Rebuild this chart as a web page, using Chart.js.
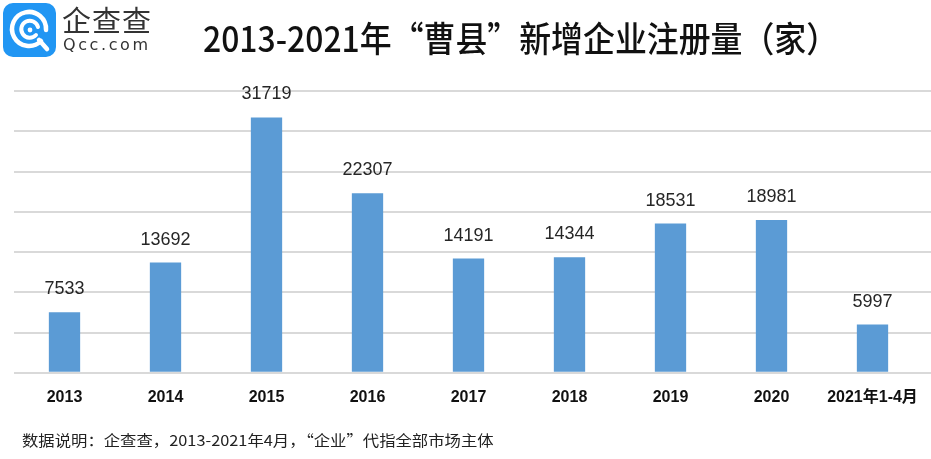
<!DOCTYPE html>
<html>
<head>
<meta charset="utf-8">
<script src="https://cdn.jsdelivr.net/npm/chart.js@4/dist/chart.umd.min.js"></script>
<style>
  html, body { margin: 0; padding: 0; background: #fff; }
  body { width: 931px; height: 459px; position: relative; overflow: hidden;
         font-family: "Noto Sans CJK SC", "Liberation Sans", sans-serif; }
  #wrap { position: absolute; left: 0; top: 0; width: 931px; height: 459px; }
  .logo { position: absolute; left: 3px; top: 3px; }
  .brand { position: absolute; left: 62px; top: 1px; font-size: 29px; color: #333;
           letter-spacing: 1px; line-height: 36px; }
  .brand-sub { position: absolute; left: 63px; top: 35px; font-family: "DejaVu Sans", sans-serif;
               font-size: 16px; color: #333; letter-spacing: 2.6px; line-height: 20px; }
  #title { position: absolute; left: 203px; top: 12px; font-size: 35px; font-weight: 500;
           color: #111; white-space: nowrap; line-height: 50px; transform-origin: 0 0; }
  #foot { position: absolute; left: 22px; top: 429px; font-size: 15px; color: #222;
          white-space: nowrap; line-height: 22px; transform-origin: 0 0; }
</style>
</head>
<body>
<div id="wrap"><canvas id="c"></canvas></div>

<svg class="logo" width="53" height="54" viewBox="0 0 53 54">
  <rect x="0" y="0" width="53" height="54" rx="10" fill="#2196f3"/>
  <path d="M38 38 A17 17 0 1 1 43 27" fill="none" stroke="#fff" stroke-width="4.5" stroke-linecap="round"/>
  <path d="M33 32 A8.5 8.5 0 1 1 35 24" fill="none" stroke="#fff" stroke-width="4" stroke-linecap="round"/>
  <circle cx="27" cy="27" r="2.4" fill="#fff"/>
  <path d="M36 37 L44 46" stroke="#fff" stroke-width="4.5" stroke-linecap="round"/>
</svg>
<div class="brand">企查查</div>
<div class="brand-sub">Qcc.com</div>

<div id="title">2013-2021年“曹县”新增企业注册量（家）</div>
<div id="foot">数据说明：企查查，2013-2021年4月，“企业”代指全部市场主体</div>

<script>
const years = ["2013", "2014", "2015", "2016", "2017", "2018", "2019", "2020", "2021年1-4月"];
const registrations = [7533, 13692, 31719, 22307, 14191, 14344, 18531, 18981, 5997];
const yMax = 35000;
const yStep = 5000;

// squeeze the html title so it spans the same width as in the picture
(function fit() {
  const t = document.getElementById("title");
  t.style.transform = `scaleX(${635 / t.offsetWidth})`;
  const f = document.getElementById("foot");
  f.style.transform = `scaleX(${472 / f.offsetWidth})`;
})();

// value over each bar
const barLabels = {
  id: "barLabels",
  afterDatasetsDraw(chart) {
    const ctx = chart.ctx;
    const meta = chart.getDatasetMeta(0);
    ctx.save();
    ctx.font = '18px "Liberation Sans", sans-serif';
    ctx.fillStyle = "#262626";
    ctx.textAlign = "center";
    ctx.textBaseline = "alphabetic";
    meta.data.forEach((bar, i) => {
      ctx.fillText(String(registrations[i]), bar.x, bar.y - 18);
    });
    ctx.restore();
  },
};

// gridlines in the original run on to the right edge of the image
const gridToEdge = {
  id: "gridToEdge",
  beforeDatasetsDraw(chart) {
    const { ctx, chartArea, scales } = chart;
    ctx.save();
    ctx.strokeStyle = "#d9d9d9";
    ctx.lineWidth = 2;
    scales.y.ticks.forEach((t) => {
      const y = Math.round(scales.y.getPixelForValue(t.value));
      ctx.beginPath();
      ctx.moveTo(chartArea.right, y);
      ctx.lineTo(chart.width, y);
      ctx.stroke();
    });
    ctx.restore();
  },
};

new Chart(document.getElementById("c"), {
  type: "bar",
  data: {
    labels: years,
    datasets: [{
      data: registrations,
      backgroundColor: "#5b9bd5",
      barPercentage: 0.31,
      categoryPercentage: 1,
    }],
  },
  options: {
    responsive: true,
    maintainAspectRatio: false,
    animation: false,
    events: [],
    layout: { padding: { left: 14, right: 8, top: 91, bottom: 45 } },
    plugins: { legend: { display: false }, tooltip: { enabled: false } },
    scales: {
      x: {
        grid: { display: false },
        border: { display: false },
        ticks: {
          autoSkip: false, maxRotation: 0, padding: 7, color: "#111",
          font: { family: '"Liberation Sans", "Noto Sans CJK SC", sans-serif', size: 16, weight: "bold" },
        },
      },
      y: {
        min: 0, max: yMax,
        ticks: { display: false, stepSize: yStep },
        border: { display: false },
        grid: { color: "#d9d9d9", lineWidth: 2, drawTicks: false },
      },
    },
  },
  plugins: [barLabels, gridToEdge],
});
</script>
</body>
</html>
